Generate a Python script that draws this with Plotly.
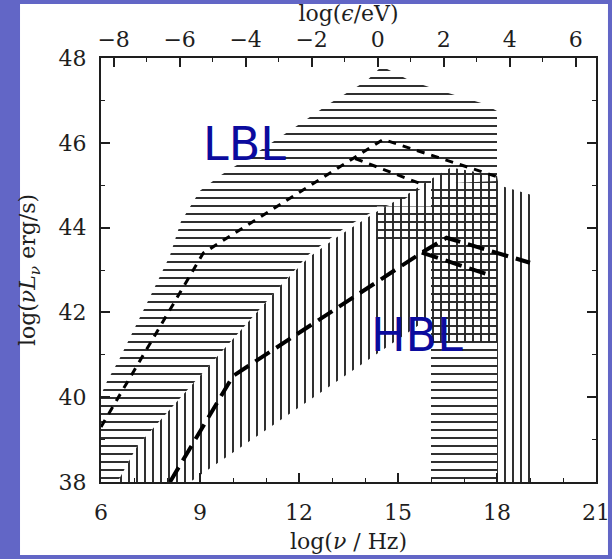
import plotly.graph_objects as go

# ---------------- data ----------------
nu_range = [6, 21]
logL_range = [38, 48]
LOG_H_EV = -14.3834          # log10(h / eV s): log(eps/eV) = log(nu/Hz) + LOG_H_EV
x_ticks = [6, 9, 12, 15, 18, 21]
eps_ticks = [-8, -6, -4, -2, 0, 2, 4, 6]
y_ticks = [38, 40, 42, 44, 46, 48]

# LBL envelope (horizontal hatching): main hump + X-ray block (None separates pieces)
lbl_band_x = [6.0, 6.0, 6.18, 6.55, 7.55, 8.09, 8.42, 9.0, 9.64, 10.76, 11.82, 12.94, 14.06,
              14.42, 14.67, 15.36, 16.12, 16.85, 17.6, 18.0, 18.0, 15.9, 15.1, 14.4, 13.4,
              12.3, 11.5, 10.0, 8.5, 7.1, 6.5, 6.0,
              None,
              16.0, 18.0, 18.0, 16.0, 16.0, 14.36, 14.36, 16.0, 16.0]
lbl_band_y = [38.0, 40.05, 40.37, 40.89, 42.47, 43.34, 44.14, 44.87, 45.24, 45.79, 46.34, 46.93, 47.47,
              47.74, 47.74, 47.47, 47.27, 47.1, 46.92, 46.75, 45.1, 45.02, 44.62, 44.45, 44.0,
              43.37, 42.68, 41.37, 40.07, 38.85, 38.0, 38.0,
              None,
              38.0, 38.0, 45.1, 45.1, 44.5, 44.5, 43.6, 43.6, 38.0]

# HBL envelope (vertical hatching)
hbl_band_x = [6.5, 7.1, 8.5, 10.0, 11.5, 12.3, 13.2, 14.4, 15.36, 15.9, 16.6, 18.0, 18.05,
              19.0, 19.0, 18.0, 18.0, 16.0, 16.0, 8.7, 6.5]
hbl_band_y = [38.0, 38.85, 40.07, 41.37, 42.68, 43.3, 43.8, 44.4, 44.82, 45.1, 45.42, 45.22, 45.0,
              44.78, 38.0, 38.0, 41.3, 41.3, 41.9, 38.0, 38.0]

# average SEDs (dashed)
lbl_sed_x = [6.0, 9.1, 14.55, 18.0]
lbl_sed_y = [39.3, 43.4, 46.08, 45.2]
lbl_sed2_x = [13.7, 15.8]
lbl_sed2_y = [45.63, 45.0]

hbl_sed_x = [8.09, 10.0, 15.72, 16.47, 19.0]
hbl_sed_y = [38.0, 40.5, 43.41, 43.76, 43.17]
hbl_sed2_x = [15.72, 17.74]
hbl_sed2_y = [43.41, 42.89]

labels = ["LBL", "HBL"]
label_x = [10.36, 15.58]
label_y = [45.98, 41.46]

# ---------------- figure ----------------
INK = "#1e1e1e"
SERIF = "DejaVu Serif"

fig = go.Figure()

fig.add_trace(go.Scatter(
    x=lbl_band_x, y=lbl_band_y, mode="lines", line=dict(width=0),
    fill="toself", fillcolor="rgba(0,0,0,0)",
    fillpattern=dict(shape="-", size=8, solidity=0.24, fgcolor="#262626",
                     bgcolor="rgba(0,0,0,0)", fillmode="replace"),
    hoverinfo="skip", showlegend=False))

fig.add_trace(go.Scatter(
    x=hbl_band_x, y=hbl_band_y, mode="lines", line=dict(width=0),
    fill="toself", fillcolor="rgba(0,0,0,0)",
    fillpattern=dict(shape="|", size=8, solidity=0.24, fgcolor="#262626",
                     bgcolor="rgba(0,0,0,0)", fillmode="replace"),
    hoverinfo="skip", showlegend=False))

short_dash = dict(color="black", width=3, dash="8px,7px")
long_dash = dict(color="black", width=4, dash="17px,8px")
for xs, ys, ln in [(lbl_sed_x, lbl_sed_y, short_dash), (lbl_sed2_x, lbl_sed2_y, short_dash),
                   (hbl_sed_x, hbl_sed_y, long_dash), (hbl_sed2_x, hbl_sed2_y, long_dash)]:
    fig.add_trace(go.Scatter(x=xs, y=ys, mode="lines", line=ln,
                             hoverinfo="skip", showlegend=False))

# invisible trace to anchor the top (photon energy) axis
fig.add_trace(go.Scatter(x=eps_ticks, y=[None] * len(eps_ticks), xaxis="x2", yaxis="y",
                         mode="markers", showlegend=False, hoverinfo="skip"))

for t, lx, ly in zip(labels, label_x, label_y):
    fig.add_annotation(x=lx, y=ly, text=t, showarrow=False, xanchor="center", yanchor="middle",
                       font=dict(family="DejaVu Sans", size=46, color="#0b0b9e"))

tickfont = dict(family=SERIF, size=22, color=INK)
titlefont = dict(family=SERIF, size=22, color=INK)

fig.update_layout(
    width=612, height=559,
    margin=dict(l=101, r=16, t=58, b=77, autoexpand=False),
    paper_bgcolor="#6266c6",
    plot_bgcolor="white",
    showlegend=False,
    shapes=[dict(type="rect", xref="paper", yref="paper",
                 x0=-0.1636, x1=1.0242, y0=-0.1722, y1=1.1274,
                 fillcolor="white", line=dict(width=0), layer="below")],
    xaxis=dict(range=nu_range, tickvals=x_ticks, ticks="inside", ticklen=9, tickwidth=1.5,
               tickcolor=INK, showline=True, linecolor=INK, linewidth=2, mirror=False,
               showgrid=False, zeroline=False, tickfont=tickfont, ticklabelstandoff=10,
               automargin=False,
               minor=dict(dtick=1, ticks="inside", ticklen=4, tickwidth=1.2, tickcolor=INK),
               title=dict(text="log(<i>ν</i> / Hz)", font=titlefont, standoff=9)),
    xaxis2=dict(range=[nu_range[0] + LOG_H_EV, nu_range[1] + LOG_H_EV], overlaying="x",
                side="top", anchor="y", tickvals=eps_ticks, ticks="inside", ticklen=9,
                tickwidth=1.5, tickcolor=INK, showline=True, linecolor=INK, linewidth=2,
                showgrid=False, zeroline=False, tickfont=tickfont, ticklabelstandoff=0,
                automargin=False,
                minor=dict(dtick=1, ticks="inside", ticklen=4, tickwidth=1.2, tickcolor=INK),
                title=dict(text="log(<i>ϵ</i>/eV)", font=titlefont, standoff=0)),
    yaxis=dict(range=logL_range, tickvals=y_ticks, ticks="inside", ticklen=9, tickwidth=1.5,
               tickcolor=INK, showline=True, linecolor=INK, linewidth=2, mirror="ticks",
               showgrid=False, zeroline=False, tickfont=tickfont, ticklabelstandoff=8,
               automargin=False,
               minor=dict(dtick=1, ticks="inside", ticklen=4, tickwidth=1.2, tickcolor=INK),
               title=dict(text="log(<i>νL</i><sub><i>ν</i></sub> erg/s)", font=titlefont,
                          standoff=17)),
)

# page body has a default 8px margin; remove it so the 612x559 figure fills the window
fig.write_html("out.html", config={"displayModeBar": False},
               post_script="document.body.style.margin='0px';")
